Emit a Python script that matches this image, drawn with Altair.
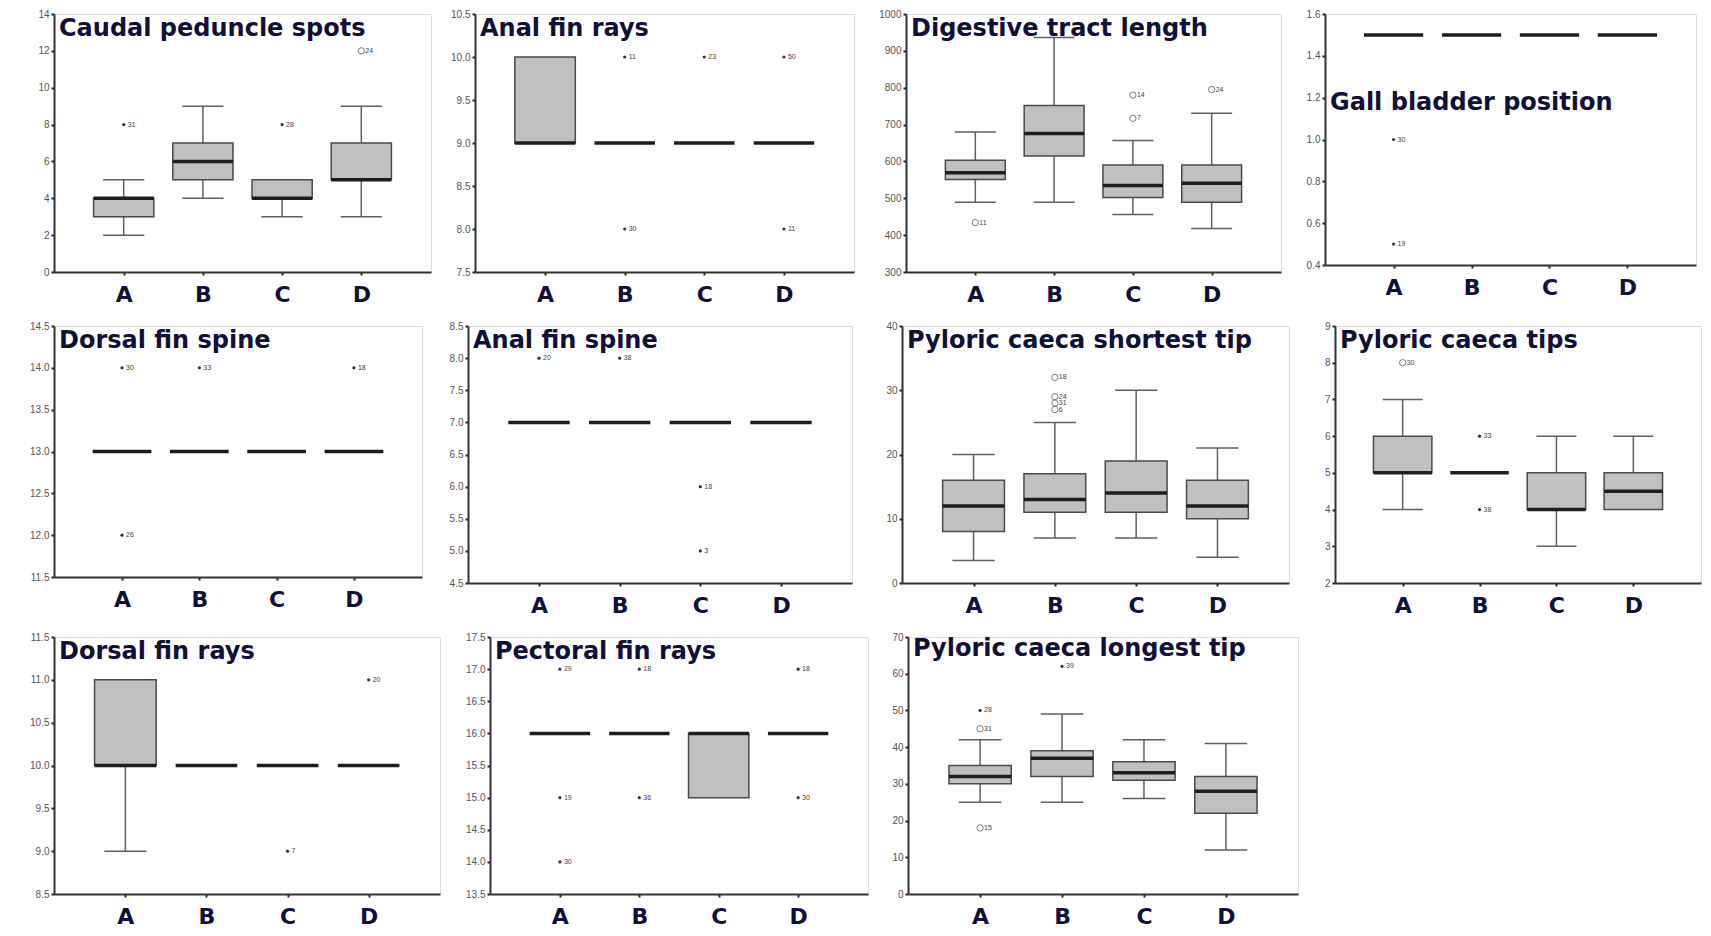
import altair as alt
import pandas as pd

CAT = ["A", "B", "C", "D"]

# ---------------- data ----------------
caudal_low = [2, 4, 3, 3]
caudal_q1 = [3, 5, 4, 5]
caudal_med = [4, 6, 4, 5]
caudal_q3 = [4, 7, 5, 7]
caudal_high = [5, 9, 5, 9]
caudal_out_cat = ["A", "C", "D"]
caudal_out_val = [8, 8, 12]
caudal_out_id = ["31", "28", "24"]
caudal_out_kind = ["*", "*", "o"]
caudal_ticks = [0, 2, 4, 6, 8, 10, 12, 14]

analr_low = [9, 9, 9, 9]
analr_q1 = [9, 9, 9, 9]
analr_med = [9, 9, 9, 9]
analr_q3 = [10, 9, 9, 9]
analr_high = [10, 9, 9, 9]
analr_out_cat = ["B", "C", "D", "B", "D"]
analr_out_val = [10, 10, 10, 8, 8]
analr_out_id = ["11", "23", "50", "30", "11"]
analr_out_kind = ["*", "*", "*", "*", "*"]
analr_ticks = [7.5, 8.0, 8.5, 9.0, 9.5, 10.0, 10.5]

dig_low = [489, 489, 456, 418]
dig_q1 = [551, 615, 502, 489]
dig_med = [569, 676, 535, 541]
dig_q3 = [603, 752, 590, 590]
dig_high = [680, 936, 657, 731]
dig_out_cat = ["A", "C", "C", "D"]
dig_out_val = [434, 780, 717, 795]
dig_out_id = ["11", "14", "7", "24"]
dig_out_kind = ["o", "o", "o", "o"]
dig_ticks = [300, 400, 500, 600, 700, 800, 900, 1000]

gall_low = [1.5, 1.5, 1.5, 1.5]
gall_q1 = [1.5, 1.5, 1.5, 1.5]
gall_med = [1.5, 1.5, 1.5, 1.5]
gall_q3 = [1.5, 1.5, 1.5, 1.5]
gall_high = [1.5, 1.5, 1.5, 1.5]
gall_out_cat = ["A", "A"]
gall_out_val = [1.0, 0.5]
gall_out_id = ["30", "19"]
gall_out_kind = ["*", "*"]
gall_ticks = [0.4, 0.6, 0.8, 1.0, 1.2, 1.4, 1.6]

dspine_low = [13, 13, 13, 13]
dspine_q1 = [13, 13, 13, 13]
dspine_med = [13, 13, 13, 13]
dspine_q3 = [13, 13, 13, 13]
dspine_high = [13, 13, 13, 13]
dspine_out_cat = ["A", "B", "D", "A"]
dspine_out_val = [14, 14, 14, 12]
dspine_out_id = ["30", "33", "18", "26"]
dspine_out_kind = ["*", "*", "*", "*"]
dspine_ticks = [11.5, 12.0, 12.5, 13.0, 13.5, 14.0, 14.5]

aspine_low = [7, 7, 7, 7]
aspine_q1 = [7, 7, 7, 7]
aspine_med = [7, 7, 7, 7]
aspine_q3 = [7, 7, 7, 7]
aspine_high = [7, 7, 7, 7]
aspine_out_cat = ["A", "B", "C", "C"]
aspine_out_val = [8, 8, 6, 5]
aspine_out_id = ["20", "38", "18", "3"]
aspine_out_kind = ["*", "*", "*", "*"]
aspine_ticks = [4.5, 5.0, 5.5, 6.0, 6.5, 7.0, 7.5, 8.0, 8.5]

pcs_low = [3.5, 7, 7, 4]
pcs_q1 = [8, 11, 11, 10]
pcs_med = [12, 13, 14, 12]
pcs_q3 = [16, 17, 19, 16]
pcs_high = [20, 25, 30, 21]
pcs_out_cat = ["B", "B", "B", "B"]
pcs_out_val = [32, 29, 28, 27]
pcs_out_id = ["18", "24", "31", "6"]
pcs_out_kind = ["o", "o", "o", "o"]
pcs_ticks = [0, 10, 20, 30, 40]

pct_low = [4, 5, 3, 4]
pct_q1 = [5, 5, 4, 4]
pct_med = [5, 5, 4, 4.5]
pct_q3 = [6, 5, 5, 5]
pct_high = [7, 5, 6, 6]
pct_out_cat = ["A", "B", "B"]
pct_out_val = [8, 6, 4]
pct_out_id = ["30", "33", "38"]
pct_out_kind = ["o", "*", "*"]
pct_ticks = [2, 3, 4, 5, 6, 7, 8, 9]

drays_low = [9, 10, 10, 10]
drays_q1 = [10, 10, 10, 10]
drays_med = [10, 10, 10, 10]
drays_q3 = [11, 10, 10, 10]
drays_high = [11, 10, 10, 10]
drays_out_cat = ["C", "D"]
drays_out_val = [9, 11]
drays_out_id = ["7", "20"]
drays_out_kind = ["*", "*"]
drays_ticks = [8.5, 9.0, 9.5, 10.0, 10.5, 11.0, 11.5]

pect_low = [16, 16, 15, 16]
pect_q1 = [16, 16, 15, 16]
pect_med = [16, 16, 16, 16]
pect_q3 = [16, 16, 16, 16]
pect_high = [16, 16, 16, 16]
pect_out_cat = ["A", "A", "A", "B", "B", "D", "D"]
pect_out_val = [17, 15, 14, 17, 15, 17, 15]
pect_out_id = ["29", "19", "30", "18", "36", "18", "30"]
pect_out_kind = ["*", "*", "*", "*", "*", "*", "*"]
pect_ticks = [13.5, 14.0, 14.5, 15.0, 15.5, 16.0, 16.5, 17.0, 17.5]

pcl_low = [25, 25, 26, 12]
pcl_q1 = [30, 32, 31, 22]
pcl_med = [32, 37, 33, 28]
pcl_q3 = [35, 39, 36, 32]
pcl_high = [42, 49, 42, 41]
pcl_out_cat = ["A", "A", "A", "B"]
pcl_out_val = [50, 45, 18, 62]
pcl_out_id = ["28", "31", "15", "39"]
pcl_out_kind = ["*", "o", "o", "*"]
pcl_ticks = [0, 10, 20, 30, 40, 50, 60, 70]

# ---------------- styling ----------------
BOX_HALF = 0.38
CAP_HALF = 0.26
TITLE_COLOR = "#10103a"
LABEL_EXPR = "[" + ",".join("'%s'" % c for c in CAT) + "][datum.value - 1]"


def panel(title, low, q1, med, q3, high, out_cat, out_val, out_id, out_kind,
          ticks, fmt, w, h, ext, title_y=22):
    idx = list(range(1, len(CAT) + 1))
    df = pd.DataFrame({"g": idx, "cat": CAT, "low": low, "q1": q1, "med": med,
                       "q3": q3, "high": high})
    df["gl"] = df["g"] - BOX_HALF
    df["gr"] = df["g"] + BOX_HALF
    df["cl"] = df["g"] - CAP_HALF
    df["cr"] = df["g"] + CAP_HALF
    od = pd.DataFrame({"cat": out_cat, "val": out_val, "id": out_id, "kind": out_kind})
    od["g"] = [CAT.index(c) + 1 for c in od["cat"]]

    xscale = alt.Scale(domain=[0.12, 4.88], nice=False, zero=False)
    yscale = alt.Scale(domain=[ticks[0], ticks[-1]], nice=False, zero=False)
    xaxis = alt.Axis(values=idx, labelExpr=LABEL_EXPR, title=None, grid=False,
                     labelFont="DejaVu Sans", labelFontWeight="bold", labelFontSize=22,
                     labelColor=TITLE_COLOR, labelPadding=9, tickSize=3, tickWidth=2,
                     tickColor="#222", domainColor="#333", domainWidth=2,
                     labelFlush=False, labelOverlap=False, minExtent=30)
    yaxis = alt.Axis(values=ticks, format=fmt, title=None, grid=False,
                     labelFont="Liberation Sans", labelFontSize=10, labelColor="#555",
                     labelPadding=2, tickSize=3, tickWidth=2, tickColor="#222",
                     domainColor="#333", domainWidth=2, labelFlush=False,
                     labelOverlap=False, minExtent=ext, maxExtent=ext)

    def X(f):
        return alt.X(f, scale=xscale, axis=xaxis)

    def Y(f):
        return alt.Y(f, scale=yscale, axis=yaxis)

    base = alt.Chart(df)
    layers = [
        base.mark_rule(color="#606060", strokeWidth=1.5).encode(
            x=X("g:Q"), y=Y("low:Q"), y2="high:Q"),
    ]
    lo = df[df["low"] < df["q1"]]
    hi = df[df["high"] > df["q3"]]
    if len(lo):
        layers.append(alt.Chart(lo).mark_rule(color="#606060", strokeWidth=1.5).encode(
            x=X("cl:Q"), x2="cr:Q", y=Y("low:Q")))
    if len(hi):
        layers.append(alt.Chart(hi).mark_rule(color="#606060", strokeWidth=1.5).encode(
            x=X("cl:Q"), x2="cr:Q", y=Y("high:Q")))
    bx = df[df["q3"] > df["q1"]]
    if len(bx):
        layers.append(alt.Chart(bx).mark_bar(fill="#c0c0c0", stroke="#4a4a4a",
                                             strokeWidth=1.5).encode(
            x=X("gl:Q"), x2="gr:Q", y=Y("q1:Q"), y2="q3:Q"))
    layers.append(base.mark_rule(color="#1e1e1e", strokeWidth=3.5).encode(
        x=X("gl:Q"), x2="gr:Q", y=Y("med:Q")))
    star = od[od["kind"] == "*"]
    circ = od[od["kind"] == "o"]
    if len(star):
        layers.append(alt.Chart(star).mark_point(shape="circle", filled=True, size=10,
                                                 color="#333", opacity=1).encode(
            x=X("g:Q"), y=Y("val:Q")))
    if len(circ):
        layers.append(alt.Chart(circ).mark_point(shape="circle", filled=False, size=40,
                                                 color="#444", strokeWidth=1).encode(
            x=X("g:Q"), y=Y("val:Q")))
    if len(od):
        layers.append(alt.Chart(od).mark_text(align="left", baseline="middle", dx=4,
                                              fontSize=7, color="#444",
                                              font="Liberation Sans").encode(
            x=X("g:Q"), y=Y("val:Q"), text="id:N"))
    layers.append(alt.Chart(pd.DataFrame({"t": [title]})).mark_text(
        align="left", baseline="alphabetic", font="DejaVu Sans", fontWeight="bold",
        fontSize=24, color=TITLE_COLOR).encode(
        text="t:N", x=alt.value(5), y=alt.value(title_y)))
    return alt.layer(*layers).properties(width=w, height=h)


p1 = panel("Caudal peduncle spots", caudal_low, caudal_q1, caudal_med, caudal_q3, caudal_high,
           caudal_out_cat, caudal_out_val, caudal_out_id, caudal_out_kind,
           caudal_ticks, "d", 377, 258, 45)
p2 = panel("Anal fin rays", analr_low, analr_q1, analr_med, analr_q3, analr_high,
           analr_out_cat, analr_out_val, analr_out_id, analr_out_kind,
           analr_ticks, ".1f", 379, 258, 32)
p3 = panel("Digestive tract length", dig_low, dig_q1, dig_med, dig_q3, dig_high,
           dig_out_cat, dig_out_val, dig_out_id, dig_out_kind,
           dig_ticks, "d", 375, 258, 40)
p4 = panel("Gall bladder position", gall_low, gall_q1, gall_med, gall_q3, gall_high,
           gall_out_cat, gall_out_val, gall_out_id, gall_out_kind,
           gall_ticks, ".1f", 371, 251, 32, title_y=96)
p5 = panel("Dorsal fin spine", dspine_low, dspine_q1, dspine_med, dspine_q3, dspine_high,
           dspine_out_cat, dspine_out_val, dspine_out_id, dspine_out_kind,
           dspine_ticks, ".1f", 368, 251, 45)
p6 = panel("Anal fin spine", aspine_low, aspine_q1, aspine_med, aspine_q3, aspine_high,
           aspine_out_cat, aspine_out_val, aspine_out_id, aspine_out_kind,
           aspine_ticks, ".1f", 384, 257, 32)
p7 = panel("Pyloric caeca shortest tip", pcs_low, pcs_q1, pcs_med, pcs_q3, pcs_high,
           pcs_out_cat, pcs_out_val, pcs_out_id, pcs_out_kind,
           pcs_ticks, "d", 387, 257, 36)
p8 = panel("Pyloric caeca tips", pct_low, pct_q1, pct_med, pct_q3, pct_high,
           pct_out_cat, pct_out_val, pct_out_id, pct_out_kind,
           pct_ticks, "d", 366, 257, 32)
p9 = panel("Dorsal fin rays", drays_low, drays_q1, drays_med, drays_q3, drays_high,
           drays_out_cat, drays_out_val, drays_out_id, drays_out_kind,
           drays_ticks, ".1f", 386, 257, 45)
p10 = panel("Pectoral fin rays", pect_low, pect_q1, pect_med, pect_q3, pect_high,
            pect_out_cat, pect_out_val, pect_out_id, pect_out_kind,
            pect_ticks, ".1f", 378, 257, 36)
p11 = panel("Pyloric caeca longest tip", pcl_low, pcl_q1, pcl_med, pcl_q3, pcl_high,
            pcl_out_cat, pcl_out_val, pcl_out_id, pcl_out_kind,
            pcl_ticks, "d", 390, 257, 26, title_y=19)

row1 = alt.hconcat(p1, p2, p3, p4, spacing=10)
row2 = alt.hconcat(p5, p6, p7, p8, spacing=12)
row3 = alt.hconcat(p9, p10, p11, spacing=12)

chart = alt.vconcat(row1, row2, row3, spacing=14).properties(
    padding=0
).configure_view(
    stroke="#8a8a8a", strokeWidth=2
).configure(background="white")

chart.save("out.html", embed_options={"renderer": "svg", "actions": False})
